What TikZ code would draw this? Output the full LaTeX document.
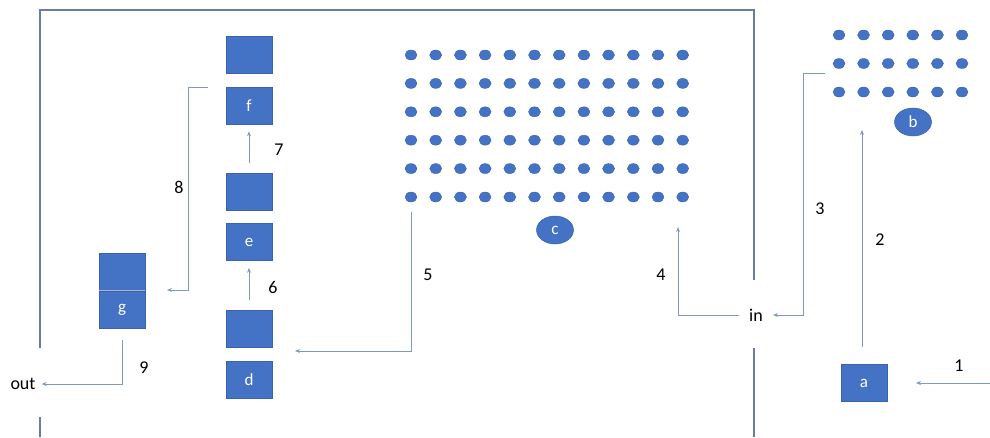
\documentclass[tikz,border=0pt]{standalone}
\usepackage{fontspec}
\setmainfont{Carlito}
\usetikzlibrary{arrows.meta,shapes.geometric}
\definecolor{boxblue}{HTML}{4472C4}
\definecolor{boxedge}{HTML}{3A63AD}
\definecolor{arrowc}{HTML}{7F99C6}
\definecolor{framec}{HTML}{6B7C9C}
\definecolor{divc}{HTML}{A9B4C8}
\tikzset{
  blk/.style={draw=boxedge,line width=0.6pt,fill=boxblue,minimum width=46pt,minimum height=37pt,inner sep=0pt,text=white,font=\fontsize{17}{17}\selectfont},
  dot/.style={ellipse,draw=boxedge,line width=0.4pt,fill=boxblue,minimum width=12pt,minimum height=10pt,inner sep=0pt},
  bigdot/.style={ellipse,draw=boxedge,line width=0.5pt,fill=boxblue,minimum width=37pt,minimum height=28pt,inner sep=0pt,text=white,font=\fontsize{17}{17}\selectfont},
  conn/.style={draw=arrowc,line width=0.9pt,-{Stealth[length=5pt,width=4pt]}},
  lbl/.style={font=\fontsize{18}{18}\selectfont,inner sep=0pt},
  frameline/.style={draw=framec,line width=1.5pt}
}
\begin{document}
\begin{tikzpicture}[x=1pt,y=-1pt]
\useasboundingbox (0,0) rectangle (990,437);
% frame
\draw[frameline] (40,348) -- (40,10) -- (754,10) -- (754,280);
\draw[frameline] (40,417) -- (40,437);
\draw[frameline] (754,348) -- (754,437);
% boxes
\node[blk] (ftop) at (249,54.5) {};
\node[blk] (f) at (249,105.5) {f};
\node[blk] (etop) at (249,192) {};
\node[blk] (e) at (249,242) {e};
\node[blk] (dtop) at (249,329) {};
\node[blk] (d) at (249,379.5) {d};
\node[blk] (gtop) at (122,271.5) {};
\node[blk] (g) at (122,310) {g};
\draw[divc,line width=0.8pt] (gtop.south west) -- (gtop.south east);
\node[blk] (a) at (864,383) {a};
% dot grid c
\foreach \i in {0,...,11}{
  \foreach \j in {0,...,5}{
    \node[dot] (c-\i-\j) at ({411+24.7*\i},{55+28.4*\j}) {};
  }
}
\node[bigdot] (c) at (555,230) {c};
% dot grid b
\foreach \i in {0,...,5}{
  \foreach \j in {0,...,2}{
    \node[dot] (b-\i-\j) at ({839+24.6*\i},{35+28.5*\j}) {};
  }
}
\node[bigdot] (b) at (913,122) {b};
% texts
\node[lbl,inner xsep=10pt] (in) at (756,315) {in};
\node[lbl,inner xsep=6pt] (out) at (23,384) {out};
% coordinates
\coordinate (p1s) at (990,383);
\coordinate (p1e) at (916,383);
\coordinate (p2e) at (862,130);
\coordinate (p3s) at (825,73);
\coordinate (p4e) at (678,227);
\coordinate (p5e) at (295,351);
\coordinate (p8s) at (208,87);
\coordinate (p8e) at (167,290);
% connectors
\draw[conn] (p1s) -- (p1e);
\draw[conn,shorten <=17pt] (a.north -| p2e) -- (p2e);
\draw[conn] (p3s) -| (803,315) -- (in.east);
\draw[conn] (in.west) -| (p4e);
\draw[conn,shorten <=10pt] (c-0-5.south) |- (p5e);
\draw[conn,shorten <=10pt,shorten >=7pt] (dtop.north) -- (e.south);
\draw[conn,shorten <=10pt,shorten >=7pt] (etop.north) -- (f.south);
\draw[conn] (p8s) -| (188,290) -- (p8e);
\draw[conn,shorten <=11pt] (g.south) |- (out.east);
% labels
\node[lbl] (l1) at (959,366) {1};
\node[lbl] (l2) at (880,240) {2};
\node[lbl] (l3) at (820,209) {3};
\node[lbl] (l4) at (661,275) {4};
\node[lbl] (l5) at (428,275) {5};
\node[lbl] (l6) at (273,287) {6};
\node[lbl] (l7) at (279,150) {7};
\node[lbl] (l8) at (179,187) {8};
\node[lbl] (l9) at (144,368) {9};
\end{tikzpicture}
\end{document}
